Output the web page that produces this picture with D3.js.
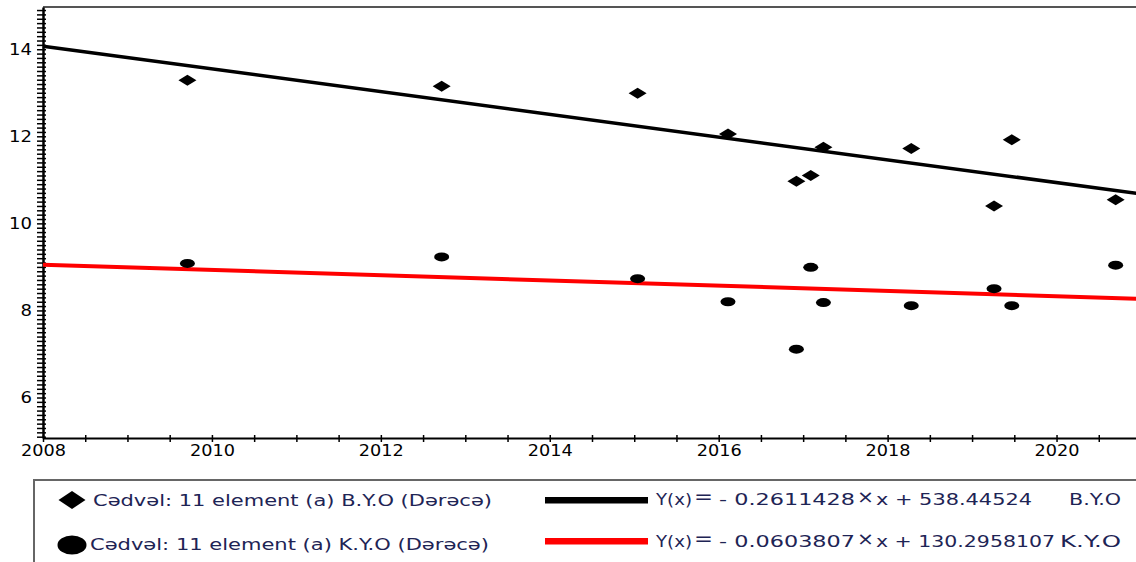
<!DOCTYPE html>
<html>
<head>
<meta charset="utf-8">
<script src="https://cdn.jsdelivr.net/npm/d3@7"></script>
<style>
  body { margin: 0; background: #fff; }
  svg { display: block; font-family: "DejaVu Sans", Verdana, sans-serif; }
</style>
</head>
<body>
<div id="chart"></div>
<script>
// measurement dates (decimal years), same for both series
var years = [2009.71, 2012.72, 2015.04, 2016.11, 2016.92, 2017.09, 2017.24, 2018.28, 2019.26, 2019.47, 2020.70];
var byo = [13.29, 13.15, 12.99, 12.05, 10.97, 11.10, 11.75, 11.72, 10.40, 11.92, 10.54];
var kyo = [9.08, 9.23, 8.73, 8.20, 7.11, 8.99, 8.18, 8.11, 8.50, 8.11, 9.04];

// linear fits: [slope, intercept]
var fitByo = [-0.2611428, 538.44524];
var fitKyo = [-0.0603807, 130.2958107];

var xLabels = [2008, 2010, 2012, 2014, 2016, 2018, 2020];
var yLabels = [6, 8, 10, 12, 14];

var legendNames = ["Cədvəl: 11 element (a) B.Y.O (Dərəcə)", "Cədvəl: 11 element (a) K.Y.O (Dərəcə)"];
var eqSlopes = ["- 0.2611428", "- 0.0603807"];
var eqRest = ["x + 538.44524", "x + 130.2958107"];
var eqNames = ["B.Y.O", "K.Y.O"];

var W = 1136, H = 562;
var svg = d3.select("#chart").append("svg")
    .attr("width", W)
    .attr("height", H);

var x = d3.scaleLinear().domain([2008, 2021]).range([43, 1141]);
var y = d3.scaleLinear().domain([5.07, 14.97]).range([438, 7]);

// top border
svg.append("line")
    .attr("x1", x(2008)).attr("x2", W)
    .attr("y1", 7).attr("y2", 7)
    .attr("stroke", "#555").attr("stroke-width", 2);

// x axis, minor ticks every half year
var xMinor = d3.range(0, 27).map(function(i) { return 2008 + i * 0.5; });
var gx = svg.append("g")
    .attr("transform", "translate(0," + y(5.07) + ")")
    .call(d3.axisBottom(x)
        .tickValues(xMinor)
        .tickSizeOuter(0)
        .tickFormat(function(d) { return xLabels.indexOf(d) >= 0 ? d : ""; }));
gx.select(".domain").attr("stroke", "#000").attr("stroke-width", 2);
gx.selectAll(".tick line").attr("y1", -3).attr("y2", 4).attr("stroke-width", 1.5);
gx.selectAll(".tick text")
    .attr("y", 7)
    .attr("font-size", 15)
    .attr("fill", "#000")
    .attr("font-family", "DejaVu Sans")
    .each(function() {
        var t = d3.select(this).text();
        if (t) d3.select(this).attr("textLength", 45).attr("lengthAdjust", "spacingAndGlyphs");
    });

// y axis, minor ticks every 0.1
var yMinor = d3.range(51, 150).map(function(i) { return i / 10; });
var gy = svg.append("g")
    .attr("transform", "translate(" + x(2008) + ",0)")
    .call(d3.axisLeft(y)
        .tickValues(yMinor)
        .tickSizeOuter(0)
        .tickFormat(function(d) { return yLabels.indexOf(d) >= 0 ? d : ""; }));
gy.select(".domain").attr("stroke", "#000").attr("stroke-width", 2.5);
gy.selectAll(".tick line").attr("x1", -6).attr("x2", 3).attr("stroke-width", 1.5);
gy.selectAll(".tick text")
    .attr("x", -11)
    .attr("font-size", 15)
    .attr("fill", "#000")
    .attr("font-family", "DejaVu Sans")
    .each(function() {
        var t = d3.select(this).text();
        if (t) d3.select(this).attr("textLength", t.length * 11.5).attr("lengthAdjust", "spacingAndGlyphs");
    });

// trend lines
var line = d3.line().x(function(d) { return x(d[0]); }).y(function(d) { return y(d[1]); });
function fitPts(f) {
    return x.domain().map(function(t) { return [t, f[0] * t + f[1]]; });
}
svg.append("path").datum(fitPts(fitByo))
    .attr("d", line).attr("fill", "none").attr("stroke", "#000").attr("stroke-width", 3.5);
svg.append("path").datum(fitPts(fitKyo))
    .attr("d", line).attr("fill", "none").attr("stroke", "#ff0000").attr("stroke-width", 4);

// points
function diamond(cx, cy, w, h) {
    return "M" + (cx - w) + "," + cy + "L" + cx + "," + (cy - h) + "L" + (cx + w) + "," + cy + "L" + cx + "," + (cy + h) + "Z";
}
svg.selectAll(".dia").data(years).enter().append("path")
    .attr("class", "dia")
    .attr("d", function(d, i) { return diamond(x(d), y(byo[i]), 9, 5.5); })
    .attr("fill", "#000");
svg.selectAll(".dot").data(years).enter().append("ellipse")
    .attr("class", "dot")
    .attr("cx", function(d) { return x(d); })
    .attr("cy", function(d, i) { return y(kyo[i]); })
    .attr("rx", 7.5).attr("ry", 4.5)
    .attr("fill", "#000");

// legend box
svg.append("rect")
    .attr("x", 34).attr("y", 480)
    .attr("width", W).attr("height", 200)
    .attr("fill", "none").attr("stroke", "#666").attr("stroke-width", 2);

var legColor = "#1e2455";
var rowY = [500, 544];
var base = [505.5, 550];

svg.append("path").attr("d", diamond(72, rowY[0], 13.5, 9)).attr("fill", "#000");
svg.append("ellipse").attr("cx", 72).attr("cy", 545).attr("rx", 14.5).attr("ry", 9.5).attr("fill", "#000");

var nameX = [93, 90];
legendNames.forEach(function(n, i) {
    svg.append("text")
        .attr("x", nameX[i]).attr("y", base[i])
        .attr("font-size", 15).attr("fill", legColor)
        .attr("textLength", 399).attr("lengthAdjust", "spacingAndGlyphs")
        .text(n);
});

var lineCols = ["#000", "#ff0000"];
var eqBase = [505, 547];
var restEnd = [1032, 1055];
var nameStart = [1069, 1060];
lineCols.forEach(function(c, i) {
    svg.append("rect")
        .attr("x", 545).attr("y", [497, 538][i])
        .attr("width", 103).attr("height", 6.5)
        .attr("fill", c);
    var b = eqBase[i];
    function piece(txt, x0, x1, dy, fs) {
        svg.append("text")
            .attr("x", x0).attr("y", b + dy)
            .attr("font-size", fs).attr("fill", legColor)
            .attr("textLength", x1 - x0).attr("lengthAdjust", "spacingAndGlyphs")
            .text(txt);
    }
    piece("Y(x)", 656, 692, 0, 15);
    piece("=", 694, 713, -2.5, 20);
    piece(eqSlopes[i], 719, 855, 0, 15);
    piece("×", 857, 874, -2, 18);
    piece(eqRest[i], 876, restEnd[i], 0, 15);
    piece(eqNames[i], nameStart[i], 1121, 0, 15);
});
</script>
</body>
</html>
